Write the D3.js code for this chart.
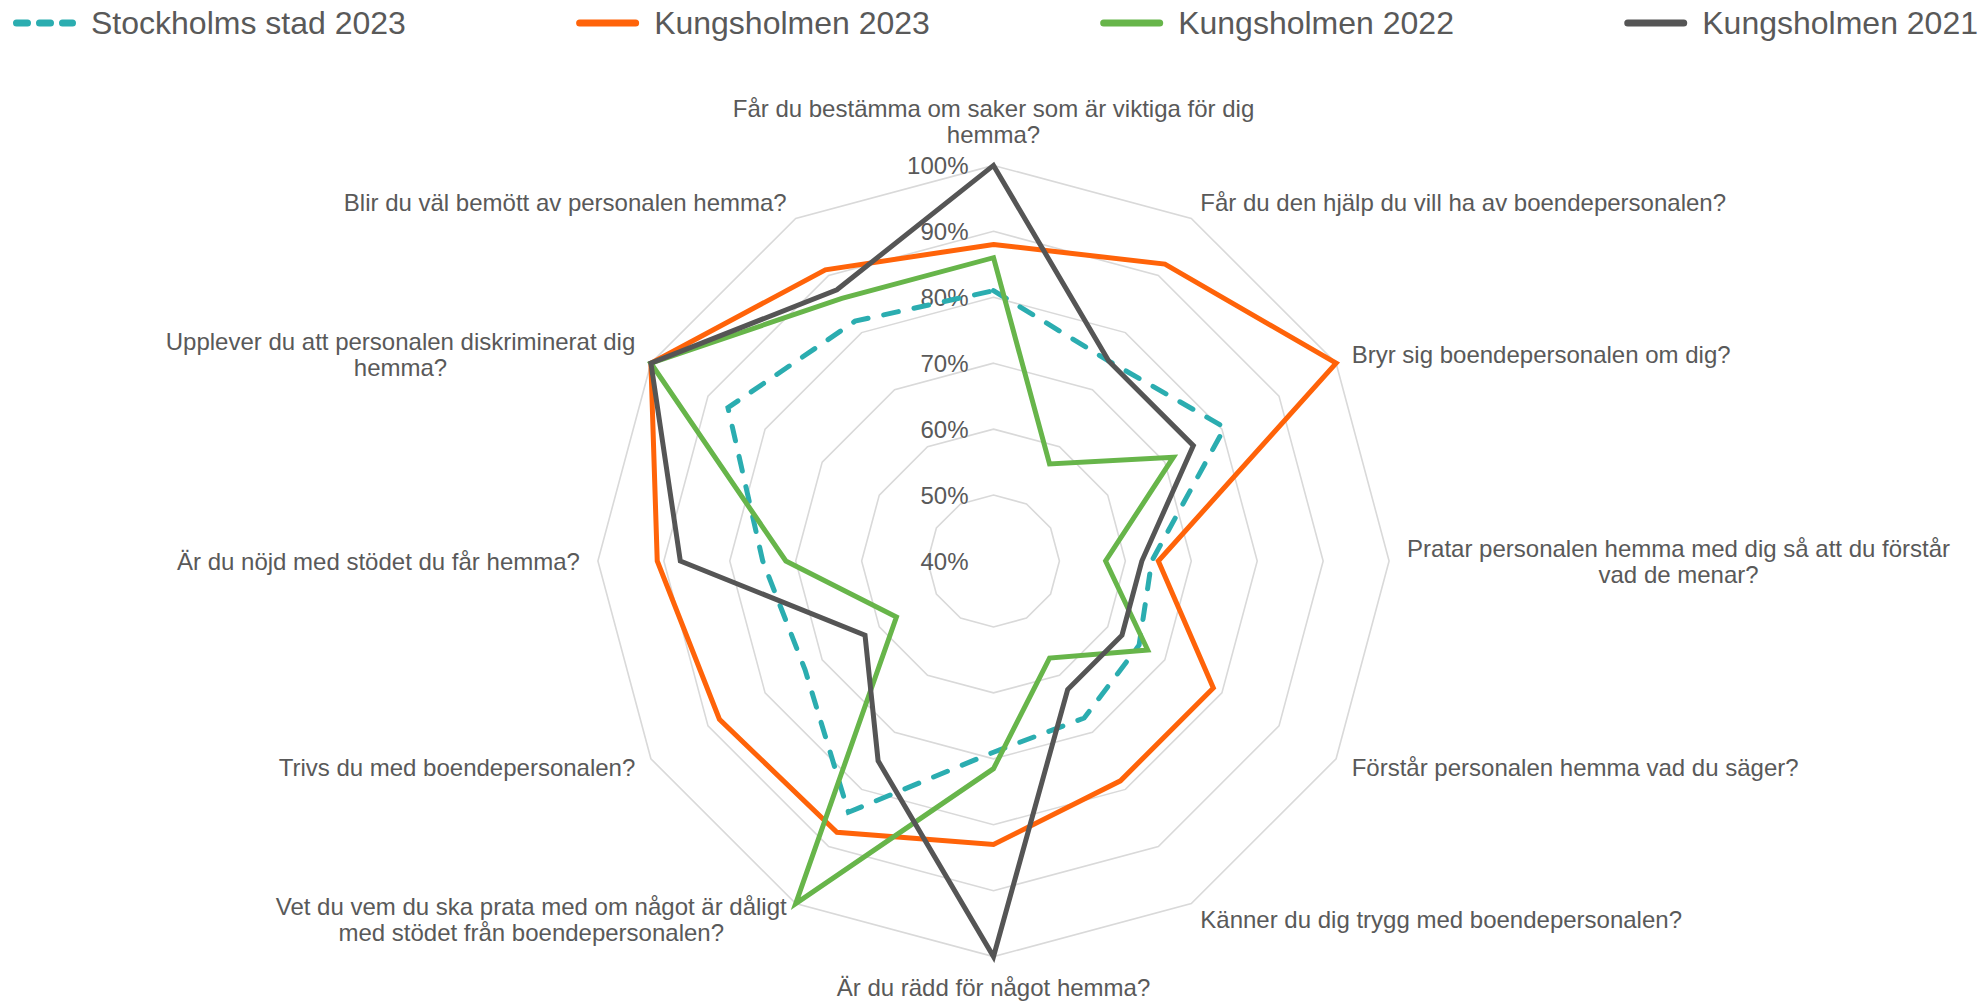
<!DOCTYPE html>
<html>
<head>
<meta charset="utf-8">
<script src="https://cdn.jsdelivr.net/npm/d3@7"></script>
<style>
  html, body { margin: 0; padding: 0; background: #ffffff; }
  svg { display: block; }
  text { font-family: "Liberation Sans", Arial, Helvetica, sans-serif; fill: #595959; }
</style>
</head>
<body>
<svg id="chart" width="1982" height="1002"></svg>
<script>
// ---------------- DATA ----------------
const categories = [
  "Får du bestämma om saker som är viktiga för dig\nhemma?",
  "Får du den hjälp du vill ha av boendepersonalen?",
  "Bryr sig boendepersonalen om dig?",
  "Pratar personalen hemma med dig så att du förstår\nvad de menar?",
  "Förstår personalen hemma vad du säger?",
  "Känner du dig trygg med boendepersonalen?",
  "Är du rädd för något hemma?",
  "Vet du vem du ska prata med om något är dåligt\nmed stödet från boendepersonalen?",
  "Trivs du med boendepersonalen?",
  "Är du nöjd med stödet du får hemma?",
  "Upplever du att personalen diskriminerat dig\nhemma?",
  "Blir du väl bemött av personalen hemma?"
];

const seriesNames = ["Stockholms stad 2023", "Kungsholmen 2023", "Kungsholmen 2022", "Kungsholmen 2021"];

const stockholm2023   = [81, 75, 80.5, 64, 65.5, 67.5, 69, 84, 73, 75, 86.5, 82];
const kungsholmen2023 = [88, 92, 100, 65, 78.5, 78.5, 83, 87.5, 88, 91, 100, 91];
const kungsholmen2022 = [86, 57, 71.5, 57, 67, 57, 71.5, 100, 57, 71.5, 100, 86];
const kungsholmen2021 = [100, 75, 75, 62.5, 62.5, 62.5, 100, 75, 62.5, 87.5, 100, 87.5];

const tickValues = [40, 50, 60, 70, 80, 90, 100];
const tickLabels = ["40%", "50%", "60%", "70%", "80%", "90%", "100%"];

// ---------------- STYLE / LAYOUT ----------------
const cx = 993.5, cy = 561, R = 395.6;
const colors = ["#2BADB0", "#FF6309", "#67B54A", "#555555"];
const dashed = [true, false, false, false];

const svg = d3.select("#chart");
const g = svg.append("g").attr("transform", `translate(${cx},${cy})`);

const r = d3.scaleLinear().domain([40, 100]).range([0, R]);
const n = categories.length;
const angle = d3.scaleLinear().domain([0, n]).range([0, 2 * Math.PI]);

// grid rings
const ringLine = d3.lineRadial()
  .angle((d, i) => angle(i))
  .radius(d => r(d))
  .curve(d3.curveLinearClosed);

g.append("g").selectAll("path")
  .data(tickValues.filter(v => v > 40))
  .join("path")
  .attr("d", v => ringLine(categories.map(() => v)))
  .attr("fill", "none")
  .attr("stroke", "#d9d9d9")
  .attr("stroke-width", 1.6);

// tick labels
g.append("g").selectAll("text")
  .data(tickValues)
  .join("text")
  .attr("x", -25)
  .attr("y", v => -r(v))
  .attr("text-anchor", "end")
  .attr("dominant-baseline", "central")
  .attr("font-size", 24)
  .text((v, i) => tickLabels[i]);

// series
const allSeries = [stockholm2023, kungsholmen2023, kungsholmen2022, kungsholmen2021];
const seriesLine = d3.lineRadial()
  .angle((d, i) => angle(i))
  .radius(d => r(d))
  .curve(d3.curveLinearClosed);

g.append("g").selectAll("path")
  .data(allSeries)
  .join("path")
  .attr("d", d => seriesLine(d))
  .attr("fill", "none")
  .attr("stroke", (d, i) => colors[i])
  .attr("stroke-width", 5)
  .attr("stroke-linejoin", "miter")
  .attr("stroke-miterlimit", 6)
  .attr("stroke-linecap", (d, i) => dashed[i] ? "round" : "butt")
  .attr("stroke-dasharray", (d, i) => dashed[i] ? "15,16" : null);

// category labels
const labelOffset = 18;
const lineH = 26;
const labels = g.append("g");
categories.forEach((cat, i) => {
  const a = angle(i);
  const sx = Math.sin(a), sy = -Math.cos(a);
  const px = sx * (R + labelOffset), py = sy * (R + labelOffset);
  const lines = cat.split("\n");
  const t = labels.append("text").attr("font-size", 24).attr("text-anchor", "middle");
  const spans = lines.map((ln) => t.append("tspan").text(ln));
  const widths = spans.map(s => s.node().getComputedTextLength());
  const bw = d3.max(widths);
  let centerX;
  if (sx > 0.01) centerX = px + bw / 2;
  else if (sx < -0.01) centerX = px - bw / 2;
  else centerX = px;
  const blockH = lines.length * lineH;
  let centerY;
  if (Math.abs(sx) < 0.01 && sy < 0) centerY = py - blockH / 2;
  else if (Math.abs(sx) < 0.01 && sy > 0) centerY = py + blockH / 2;
  else centerY = py;
  spans.forEach((s, k) => {
    s.attr("x", centerX)
     .attr("y", centerY + (k - (lines.length - 1) / 2) * lineH)
     .attr("dominant-baseline", "central");
  });
});

// legend
const legendY = 23;
const sampleLen = 63, textGap = 78;
const legend = svg.append("g");
const items = seriesNames.map((name, i) => {
  const it = legend.append("g");
  const tx = it.append("text")
    .attr("x", textGap)
    .attr("y", legendY)
    .attr("dominant-baseline", "central")
    .attr("font-size", 32)
    .text(name);
  const w = textGap + tx.node().getComputedTextLength();
  it.append("line")
    .attr("x1", 3.5).attr("x2", sampleLen - 3.5)
    .attr("y1", legendY).attr("y2", legendY)
    .attr("stroke", colors[i]).attr("stroke-width", 7)
    .attr("stroke-linecap", "round")
    .attr("stroke-dasharray", dashed[i] ? "11,12" : null);
  return { it, w };
});
const startX = 13, endX = 1978;
const totalW = d3.sum(items, d => d.w);
const gap = (endX - startX - totalW) / (items.length - 1);
let xCur = startX;
items.forEach(d => {
  d.it.attr("transform", `translate(${xCur},0)`);
  xCur += d.w + gap;
});
</script>
</body>
</html>
